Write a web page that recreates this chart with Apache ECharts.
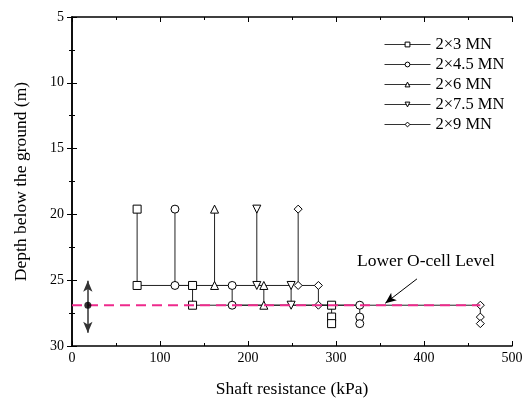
<!DOCTYPE html>
<html>
<head>
<meta charset="utf-8">
<script src="https://cdn.jsdelivr.net/npm/echarts@6/dist/echarts.min.js"></script>
<style>
  html, body { margin: 0; padding: 0; background: #fff; }
  #chart { width: 525px; height: 398px; }
</style>
</head>
<body>
<div id="chart"></div>
<script>
// series names (legend)
var names = ['2\u00d73 MN', '2\u00d74.5 MN', '2\u00d76 MN', '2\u00d77.5 MN', '2\u00d79 MN'];

// shaft resistance (kPa) and depth (m) for each load step
var res_3   = [74, 74, 137, 137, 295, 295, 295];
var dep_3   = [19.6, 25.4, 25.4, 26.9, 26.9, 27.8, 28.3];
var res_4_5 = [117, 117, 182, 182, 327, 327, 327];
var dep_4_5 = [19.6, 25.4, 25.4, 26.9, 26.9, 27.8, 28.3];
var res_6   = [162, 162, 218, 218];
var dep_6   = [19.6, 25.4, 25.4, 26.9];
var res_7_5 = [210, 210, 249, 249];
var dep_7_5 = [19.6, 25.4, 25.4, 26.9];
var res_9   = [257, 257, 280, 280, 464, 464, 464];
var dep_9   = [19.6, 25.4, 25.4, 26.9, 26.9, 27.8, 28.3];

// lower O-cell level
var ocellDepth = 26.9;
var ocellLine = [0, 464];
var ocellMark = [18, 25.05, 29.0];   // x, arrow top, arrow bottom
var noteArrow = [[392, 24.9], [356, 26.75]];

var xTicks = [0, 500, 100];
var yTicks = [5, 30, 5];

var serif = 'Liberation Serif';

function pairs(xs, ys) {
    var out = [];
    for (var i = 0; i < xs.length; i++) {
        out.push([xs[i], ys[i]]);
    }
    return out;
}

function profile(name, xs, ys, symbol, rotate) {
    return {
        name: name,
        type: 'line',
        data: pairs(xs, ys),
        symbol: symbol,
        symbolSize: 8,
        symbolRotate: rotate || 0,
        showAllSymbol: true,
        z: 3,
        itemStyle: {color: '#fff', borderColor: '#000', borderWidth: 1},
        lineStyle: {color: '#222', width: 1}
    };
}

function boxAxis(pos, inverse) {
    return {
        type: 'value',
        position: pos,
        inverse: inverse,
        axisLine: {lineStyle: {color: '#000', width: 1.5}},
        axisTick: {inside: true, length: 5, lineStyle: {color: '#000'}},
        minorTick: {show: true, splitNumber: 2, length: 3, lineStyle: {color: '#000'}},
        axisLabel: {fontFamily: serif, fontSize: 14, color: '#000'},
        splitLine: {show: false}
    };
}

var xBottom = boxAxis('bottom', false);
xBottom.min = xTicks[0]; xBottom.max = xTicks[1]; xBottom.interval = xTicks[2];
xBottom.name = 'Shaft resistance (kPa)';
xBottom.nameLocation = 'middle';
xBottom.nameGap = 34;
xBottom.nameTextStyle = {fontFamily: serif, fontSize: 17.5, color: '#000'};
xBottom.axisLabel.margin = 5;

var xTop = boxAxis('top', false);
xTop.min = xTicks[0]; xTop.max = xTicks[1]; xTop.interval = xTicks[2];
xTop.axisLabel = {show: false};

var yLeft = boxAxis('left', true);
yLeft.min = yTicks[0]; yLeft.max = yTicks[1]; yLeft.interval = yTicks[2];
yLeft.name = 'Depth below the ground (m)';
yLeft.nameLocation = 'middle';
yLeft.nameGap = 42;
yLeft.nameTextStyle = {fontFamily: serif, fontSize: 17.5, color: '#000'};
yLeft.axisLabel.margin = 8;

var yRight = boxAxis('right', true);
yRight.min = yTicks[0]; yRight.max = yTicks[1]; yRight.interval = yTicks[2];
yRight.axisLabel = {show: false};

var chart = echarts.init(document.getElementById('chart'));
var option = {
    animation: false,
    backgroundColor: '#fff',
    textStyle: {fontFamily: serif, color: '#000'},
    grid: {left: 72, right: 13, top: 17, bottom: 52, outerBoundsMode: 'none'},
    legend: {
        data: names,
        orient: 'vertical',
        left: 379,
        top: 31,
        itemWidth: 46,
        itemHeight: 6,
        itemGap: 3,
        itemStyle: {color: '#fff', borderColor: '#000', borderWidth: 1},
        lineStyle: {color: '#333', width: 1},
        textStyle: {fontFamily: serif, fontSize: 16.5, color: '#000'}
    },
    graphic: [{
        type: 'text',
        left: 357,
        top: 252,
        style: {text: 'Lower O-cell Level', fontFamily: serif, fontSize: 17.5, fill: '#000'}
    }],
    xAxis: [xBottom, xTop],
    yAxis: [yLeft, yRight],
    series: [
        profile(names[0], res_3, dep_3, 'rect'),
        profile(names[1], res_4_5, dep_4_5, 'circle'),
        profile(names[2], res_6, dep_6, 'triangle'),
        profile(names[3], res_7_5, dep_7_5, 'triangle', 180),
        profile(names[4], res_9, dep_9, 'diamond'),
        {
            // dashed O-cell level line, drawn above the profiles
            name: 'ocell',
            type: 'line',
            data: [[ocellLine[0], ocellDepth], [ocellLine[1], ocellDepth]],
            symbol: 'none',
            z: 4,
            lineStyle: {color: '#ee2a8c', width: 2, type: [10, 6]},
            markLine: {
                silent: true,
                label: {show: false},
                symbolSize: [7, 11],
                data: [
                    [
                        {coord: [ocellMark[0], ocellMark[1]], symbol: 'arrow', lineStyle: {color: '#333', width: 1.5, type: 'solid'}},
                        {coord: [ocellMark[0], ocellMark[2]], symbol: 'arrow'}
                    ],
                    [
                        {coord: noteArrow[0], symbol: 'none', lineStyle: {color: '#000', width: 1, type: 'solid'}},
                        {coord: noteArrow[1], symbol: 'arrow'}
                    ]
                ]
            }
        },
        {
            name: 'ocellDot',
            type: 'scatter',
            data: [[ocellMark[0], ocellDepth]],
            symbol: 'circle',
            symbolSize: 7,
            z: 5,
            itemStyle: {color: '#000'}
        }
    ]
};
chart.setOption(option);
</script>
</body>
</html>
